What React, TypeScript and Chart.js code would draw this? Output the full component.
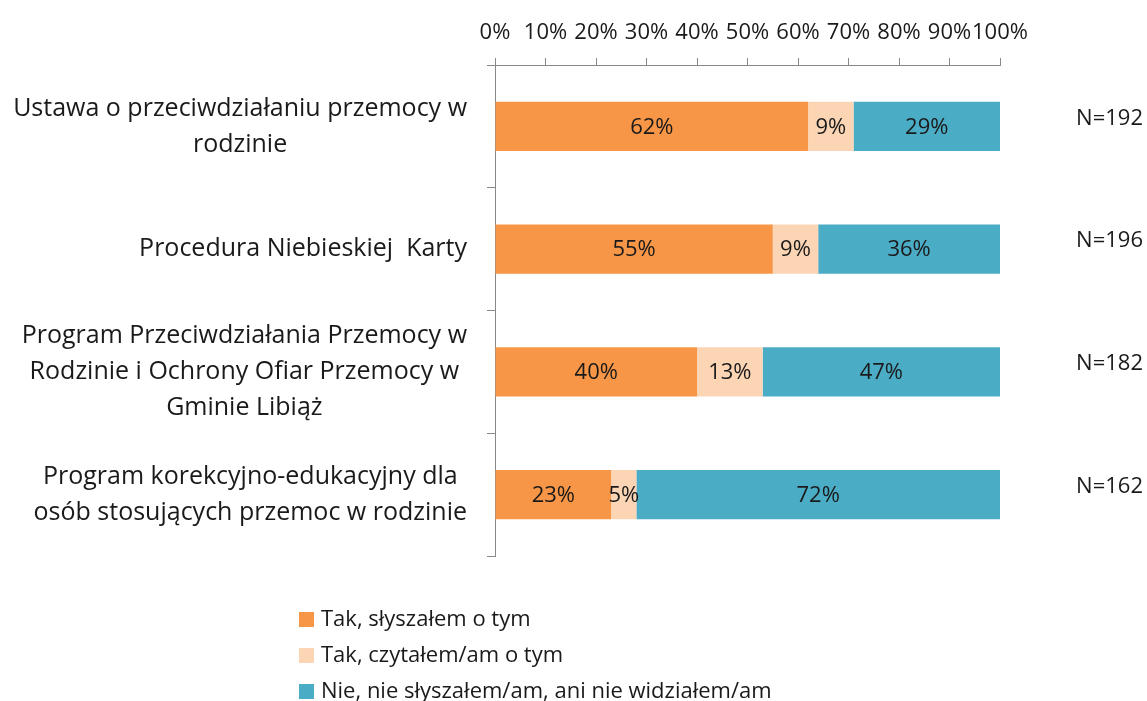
import { useEffect, useRef } from 'react';
import { Chart, registerables } from 'chart.js';

Chart.register(...registerables);

const categories: string[][] = [
  ['Ustawa o przeciwdziałaniu przemocy w', 'rodzinie'],
  ['Procedura Niebieskiej  Karty'],
  ['Program Przeciwdziałania Przemocy w', 'Rodzinie i Ochrony Ofiar Przemocy w', 'Gminie Libiąż'],
  ['Program korekcyjno-edukacyjny dla', 'osób stosujących przemoc w rodzinie'],
];
const seriesNames = [
  'Tak, słyszałem o tym',
  'Tak, czytałem/am o tym',
  'Nie, nie słyszałem/am, ani nie widziałem/am',
];
const heardValues = [62, 55, 40, 23];
const readValues = [9, 9, 13, 5];
const notHeardValues = [29, 36, 47, 72];
const sampleSizes = ['N=192', 'N=196', 'N=182', 'N=162'];
const seriesColors = ['#F79646', '#FCD5B5', '#4BACC6'];

const FONT = '"Open Sans", "Noto Sans", sans-serif';
const TEXT = '#1a1a1a';

const labelsPlugin = {
  id: 'customLabels',
  afterDatasetsDraw(chart: any) {
    const ctx = chart.ctx;
    ctx.save();
    ctx.font = `22px ${FONT}`;
    ctx.fillStyle = TEXT;
    ctx.textAlign = 'center';
    ctx.textBaseline = 'middle';
    chart.data.datasets.forEach((ds: any, di: number) => {
      const meta = chart.getDatasetMeta(di);
      meta.data.forEach((el: any, i: number) => {
        const v = ds.data[i];
        ctx.fillText(`${v}%`, (el.x + el.base) / 2, el.y + 1);
      });
    });
    ctx.restore();
  },
  afterDraw(chart: any) {
    const ctx = chart.ctx;
    const yScale = chart.scales.y;
    ctx.save();
    // category labels: block right-aligned to the axis, lines centred in the block
    ctx.font = `25px ${FONT}`;
    ctx.fillStyle = TEXT;
    ctx.textBaseline = 'middle';
    ctx.textAlign = 'center';
    const lineH = 36;
    (chart.data.labels as string[][]).forEach((lines, i) => {
      const w = Math.max(...lines.map((l) => ctx.measureText(l).width));
      const cx = yScale.right - 28 - w / 2;
      const cy = yScale.getPixelForValue(i);
      lines.forEach((l, k) => {
        ctx.fillText(l, cx, cy + (k - (lines.length - 1) / 2) * lineH);
      });
    });
    // sample sizes
    ctx.font = `22px ${FONT}`;
    ctx.textAlign = 'right';
    sampleSizes.forEach((s, i) => {
      const y = yScale.getPixelForValue(i) - 8;
      ctx.fillText(s, chart.width - 4, y);
    });
    // legend
    ctx.textAlign = 'left';
    chart.data.datasets.forEach((ds: any, i: number) => {
      const y = 620 + i * 36;
      ctx.fillStyle = ds.backgroundColor;
      ctx.fillRect(299, y - 8, 15, 15);
      ctx.fillStyle = TEXT;
      ctx.fillText(ds.label, 321, y);
    });
    ctx.restore();
  },
};

export default function App() {
  const ref = useRef<HTMLCanvasElement>(null);
  useEffect(() => {
    if (!ref.current) return;
    const chart = new Chart(ref.current, {
      type: 'bar',
      data: {
        labels: categories,
        datasets: [
          { label: seriesNames[0], data: heardValues, backgroundColor: seriesColors[0] },
          { label: seriesNames[1], data: readValues, backgroundColor: seriesColors[1] },
          { label: seriesNames[2], data: notHeardValues, backgroundColor: seriesColors[2] },
        ],
      },
      options: {
        indexAxis: 'y',
        responsive: false,
        animation: false,
        layout: { padding: { left: 0, right: 147, top: 0, bottom: 145 } },
        datasets: { bar: { categoryPercentage: 1, barPercentage: 0.4, borderWidth: 0 } },
        plugins: { legend: { display: false }, tooltip: { enabled: false } },
        scales: {
          x: {
            position: 'top',
            stacked: true,
            min: 0,
            max: 100,
            afterFit(scale: any) { scale.height = 65; },
            ticks: {
              stepSize: 10,
              padding: 12,
              maxRotation: 0,
              minRotation: 0,
              autoSkip: false,
              color: TEXT,
              font: { family: FONT, size: 22 },
              callback: (v: any) => `${v}%`,
            },
            grid: { drawOnChartArea: false, drawTicks: true, tickLength: 7, color: '#888888' },
            border: { color: '#888888', width: 1 },
          },
          y: {
            stacked: true,
            afterFit(scale: any) { scale.width = 495; },
            ticks: { display: false },
            grid: { offset: true, drawOnChartArea: false, drawTicks: true, tickLength: 8, color: '#888888' },
            border: { color: '#888888', width: 1 },
          },
        },
      },
      plugins: [labelsPlugin],
    } as any);
    return () => chart.destroy();
  }, []);
  return (
    <div style={{ position: 'fixed', left: 0, top: 0, width: 1147, height: 701, background: '#fff' }}>
      <canvas ref={ref} width={1147} height={701} />
    </div>
  );
}
